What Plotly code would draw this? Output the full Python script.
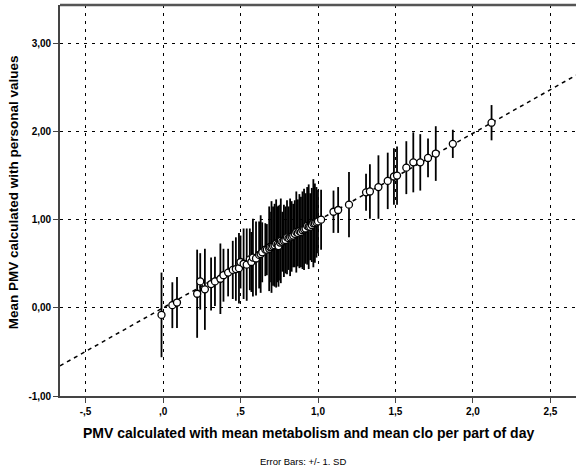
import plotly.graph_objects as go

# PMV calculated with mean metabolism and mean clo (x)
pmv_mean_x = [-0.01, 0.06, 0.09, 0.22, 0.24, 0.27, 0.31, 0.335, 0.37, 0.39,
              0.42, 0.45, 0.47, 0.49, 0.50, 0.52, 0.54, 0.56, 0.57, 0.58,
              0.60, 0.62, 0.63, 0.64, 0.66, 0.67, 0.685, 0.69, 0.70, 0.71,
              0.72, 0.73, 0.74, 0.745, 0.755, 0.76, 0.77, 0.78, 0.79, 0.80,
              0.81, 0.82, 0.83, 0.84, 0.85, 0.86, 0.87, 0.88, 0.89, 0.90,
              0.91, 0.92, 0.93, 0.94, 0.95, 0.96, 0.97, 0.98, 0.99, 1.00,
              1.02, 1.10, 1.13, 1.20, 1.31, 1.335, 1.39, 1.45, 1.49, 1.51,
              1.57, 1.615, 1.66, 1.71, 1.76, 1.87, 2.12]
# Mean PMV calculated with personal values (y)
pmv_personal_y = [-0.08, 0.03, 0.06, 0.16, 0.30, 0.21, 0.27, 0.30, 0.33, 0.37,
                  0.40, 0.43, 0.44, 0.45, 0.52, 0.50, 0.49, 0.55, 0.52, 0.57,
                  0.56, 0.60, 0.61, 0.63, 0.66, 0.66, 0.67, 0.69, 0.69, 0.70,
                  0.71, 0.73, 0.72, 0.70, 0.74, 0.76, 0.75, 0.76, 0.77, 0.80,
                  0.79, 0.80, 0.81, 0.82, 0.84, 0.86, 0.85, 0.87, 0.86, 0.88,
                  0.89, 0.90, 0.93, 0.92, 0.92, 0.94, 0.96, 0.96, 0.97, 0.98,
                  1.00, 1.09, 1.11, 1.17, 1.31, 1.32, 1.37, 1.44, 1.49, 1.50,
                  1.59, 1.65, 1.65, 1.70, 1.75, 1.86, 2.10]
# Standard deviation (error bars +/- 1 SD)
pmv_sd = [0.48, 0.26, 0.29, 0.50, 0.32, 0.46, 0.30, 0.28, 0.40, 0.30,
          0.27, 0.33, 0.36, 0.40, 0.30, 0.40, 0.41, 0.35, 0.34, 0.44,
          0.42, 0.38, 0.44, 0.34, 0.30, 0.29, 0.48, 0.40, 0.52, 0.45,
          0.47, 0.50, 0.43, 0.46, 0.43, 0.48, 0.34, 0.41, 0.38, 0.42,
          0.36, 0.44, 0.40, 0.36, 0.38, 0.46, 0.38, 0.42, 0.40, 0.44,
          0.46, 0.40, 0.44, 0.48, 0.38, 0.42, 0.50, 0.45, 0.40, 0.36,
          0.34, 0.24, 0.26, 0.37, 0.21, 0.31, 0.36, 0.32, 0.32, 0.33,
          0.30, 0.34, 0.32, 0.22, 0.31, 0.16, 0.20]

# Reference (fit) line coefficients
fit_intercept = 0.0
fit_slope = 0.99

x_range = [-0.665, 2.665]
y_range = [-1.0, 3.435]

x_tickvals = [-0.5, 0.0, 0.5, 1.0, 1.5, 2.0, 2.5]
x_ticktext = ["-,5", ",0", ",5", "1,0", "1,5", "2,0", "2,5"]
y_tickvals = [-1, 0, 1, 2, 3]
y_ticktext = ["-1,00", "0,00", "1,00", "2,00", "3,00"]

x_title = "PMV calculated with mean metabolism and mean clo per part of day"
y_title = "Mean PMV calculated with personal values"
footer = "Error Bars: +/- 1. SD"

fig = go.Figure()

fig.add_trace(go.Scatter(
    x=x_range,
    y=[fit_intercept + fit_slope * v for v in x_range],
    mode="lines",
    line=dict(color="black", width=1.5, dash="4px,4px"),
    hoverinfo="skip", showlegend=False,
))

fig.add_trace(go.Scatter(
    x=pmv_mean_x, y=pmv_personal_y,
    mode="markers",
    marker=dict(symbol="circle", size=7, color="white",
                line=dict(color="black", width=1.3)),
    error_y=dict(type="data", array=pmv_sd, visible=True,
                 color="black", thickness=1.8, width=0),
    showlegend=False,
))

font_family = "Liberation Sans, Arial, sans-serif"

fig.update_layout(
    width=576, height=472,
    margin=dict(l=60, r=0, t=5, b=76),
    paper_bgcolor="white", plot_bgcolor="white",
    font=dict(family=font_family, color="black"),
    xaxis=dict(
        range=x_range, tickvals=x_tickvals, ticktext=x_ticktext,
        showgrid=True, gridcolor="black", gridwidth=1.3, griddash="3px,5px",
        zeroline=False, showline=True, linecolor="#444", linewidth=1.6,
        ticks="outside", ticklen=5, tickcolor="#444", tickwidth=1.3,
        tickfont=dict(size=10, family=font_family, weight="bold"),
    ),
    yaxis=dict(
        range=y_range, tickvals=y_tickvals, ticktext=y_ticktext,
        showgrid=True, gridcolor="black", gridwidth=1.3, griddash="3px,5px",
        zeroline=False, showline=True, linecolor="#444", linewidth=1.6,
        ticks="outside", ticklen=5, tickcolor="#444", tickwidth=1.3,
        tickfont=dict(size=10, family=font_family, weight="bold"),
    ),
    shapes=[dict(type="line", xref="paper", yref="paper", x0=0, x1=1, y0=1, y1=1,
                 line=dict(color="#555", width=2.5))],
    annotations=[
        dict(text=x_title, xref="paper", yref="paper", x=0.482, y=-0.095,
             xanchor="center", yanchor="middle", showarrow=False,
             font=dict(size=14, family=font_family, weight="bold")),
        dict(text=footer, xref="paper", yref="paper", x=0.47, y=-0.168,
             xanchor="center", yanchor="middle", showarrow=False,
             font=dict(size=9.5, family=font_family)),
        dict(text=y_title, xref="paper", yref="paper", x=-0.09, y=0.52,
             xanchor="center", yanchor="middle", showarrow=False, textangle=-90,
             font=dict(size=13.5, family=font_family, weight="bold")),
    ],
)

fig.write_html("out.html")
